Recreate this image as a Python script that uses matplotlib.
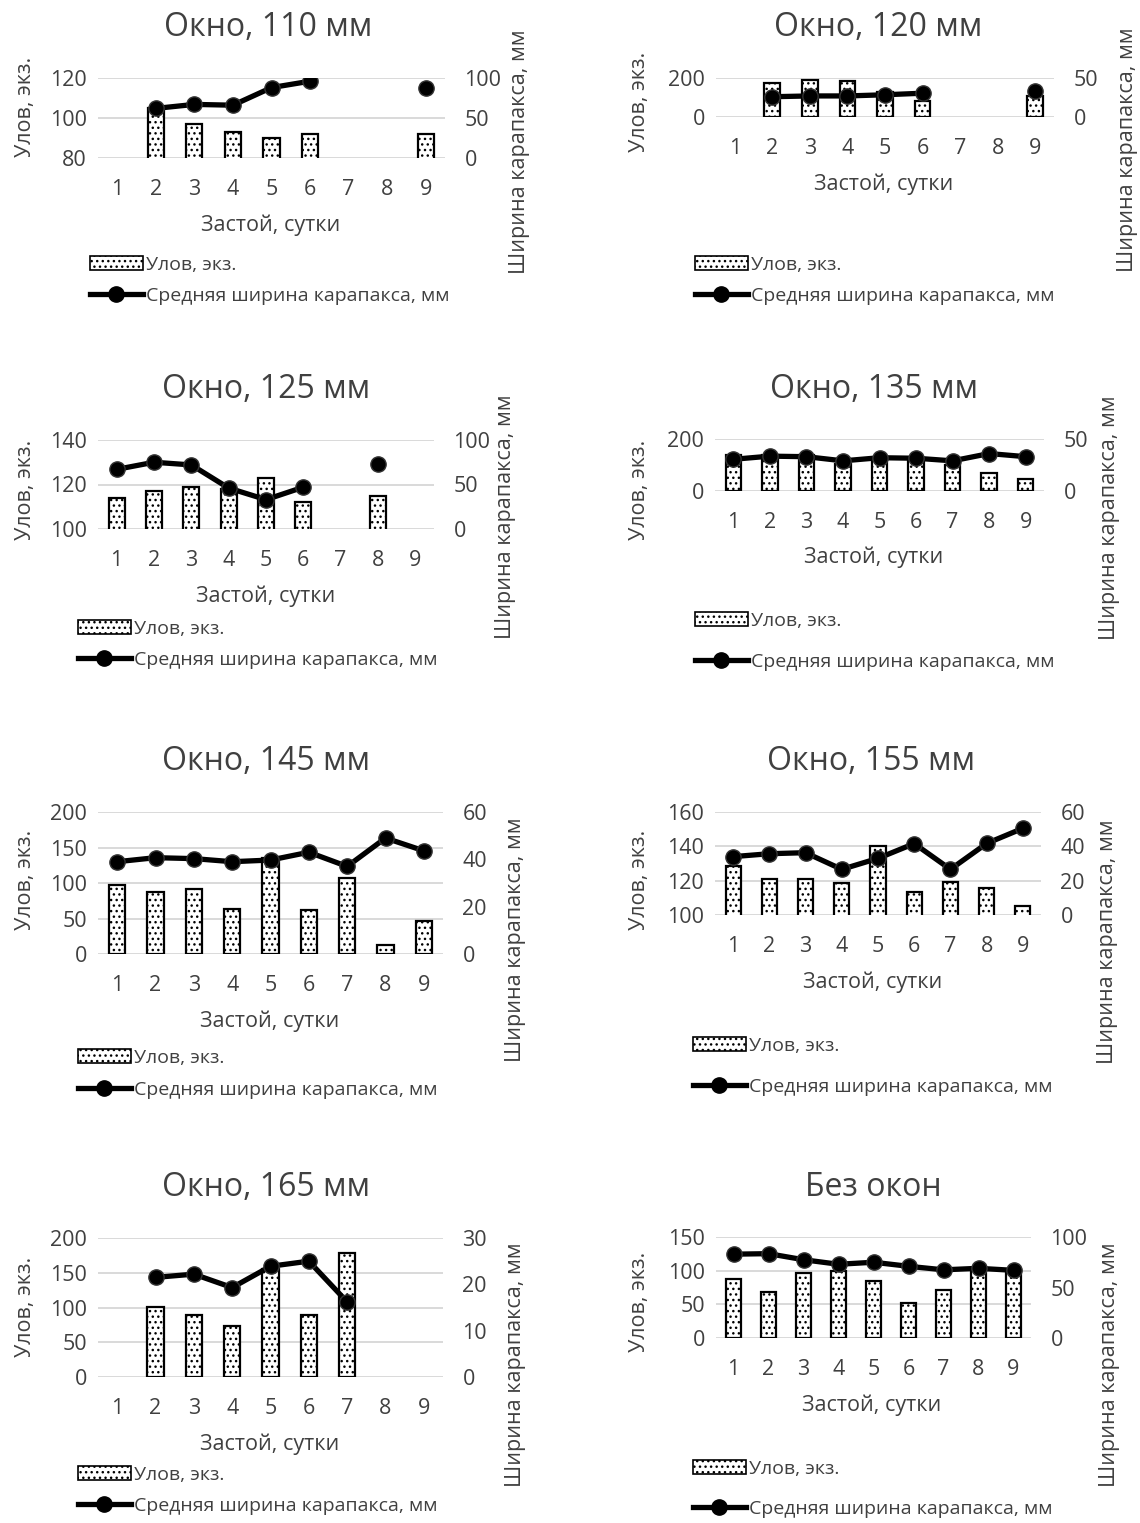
import numpy as np
import matplotlib
matplotlib.use('Agg')
import matplotlib.pyplot as plt
from matplotlib.patches import Patch
from matplotlib.lines import Line2D

plt.rcParams['font.family'] = ['Open Sans', 'DejaVu Sans']
plt.rcParams['hatch.color'] = 'black'
plt.rcParams['hatch.linewidth'] = 1.0

nan = np.nan
days = [1, 2, 3, 4, 5, 6, 7, 8, 9]

titles = ['Окно, 110 мм', 'Окно, 120 мм', 'Окно, 125 мм', 'Окно, 135 мм',
          'Окно, 145 мм', 'Окно, 155 мм', 'Окно, 165 мм', 'Без окон']

# улов, экз.
catch_110 = [nan, 105, 97, 93, 90, 92, nan, nan, 92]
catch_120 = [nan, 174, 188, 185, 130, 80, nan, nan, 110]
catch_125 = [114, 117, 119, 118, 123, 112, nan, 115, nan]
catch_135 = [140, 140, 140, 105, 125, 125, 100, 71, 48]
catch_145 = [97, 87, 92, 64, 135, 62, 107, 13, 47]
catch_155 = [128.5, 121, 121, 118.5, 140, 113.5, 119, 115.5, 105]
catch_165 = [nan, 101, 88.5, 73, 155, 89.5, 179, nan, nan]
catch_none = [88, 68, 97, 100, 84, 52, 72, 100, 101]

# средняя ширина карапакса, мм
width_110 = [nan, 62, 67, 66, 88, 96, nan, nan, 88]
width_120 = [nan, 26, 27, 27, 28.5, 30.5, nan, nan, 33]
width_125 = [67, 75, 72, 46, 33, 47, nan, 73, nan]
width_135 = [30.5, 33.5, 33, 29, 32, 31.5, 29, 36, 33]
width_145 = [39, 40.7, 40.3, 39, 39.7, 43, 37, 49, 43.6]
width_155 = [34, 35.7, 36.3, 26.6, 33, 41.6, 26.6, 41.7, 50.5]
width_165 = [nan, 21.5, 22.2, 19.3, 23.9, 25, 16.2, nan, nan]
width_none = [83, 83.5, 77.5, 73, 75, 71, 67.5, 69, 67]

catches = [catch_110, catch_120, catch_125, catch_135,
           catch_145, catch_155, catch_165, catch_none]
widths = [width_110, width_120, width_125, width_135,
          width_145, width_155, width_165, width_none]

# (min, max, step) for left and right axes
left_lims = [(80, 120, 20), (0, 200, 200), (100, 140, 20), (0, 200, 200),
             (0, 200, 50), (100, 160, 20), (0, 200, 50), (0, 150, 50)]
right_lims = [(0, 100, 50), (0, 50, 50), (0, 100, 50), (0, 50, 50),
              (0, 60, 20), (0, 60, 20), (0, 30, 10), (0, 100, 50)]

# layout in pixels: plot box, title, xlabel, left/right ylabel, legend
boxes = [(98, 78, 445, 158), (716, 78, 1054, 117), (98, 440, 434, 529), (715, 439, 1044, 491),
         (98, 812, 443, 954), (715, 812, 1041, 915), (98, 1238, 443, 1377), (716, 1237, 1031, 1338)]
title_pos = [(268, 28), (878, 28), (266, 390), (874, 390),
             (266, 762), (871, 762), (266, 1188), (873, 1188)]
xlabel_pos = [(271, 225), (884, 184), (266, 596), (874, 557),
              (270, 1021), (873, 982), (270, 1444), (872, 1405)]
ylab_left = [(25, 107), (640, 102), (25, 490), (640, 490),
             (25, 880), (640, 880), (25, 1307), (640, 1302)]
ylab_right = [(520, 152), (1127, 150), (505, 517), (1110, 518),
              (515, 940), (1108, 942), (515, 1365), (1110, 1365)]
legend_pos = [(90, 268, 32), (695, 268, 32), (78, 632, 32), (695, 624, 42),
              (78, 1061, 33), (693, 1049, 42), (78, 1478, 32), (693, 1472, 41)]

W, H = 1140, 1523
fig = plt.figure(figsize=(W / 100, H / 100), dpi=100)
txt = '#404040'

def ftext(x, y, s, **kw):
    fig.text(x / W, 1 - y / H, s, ha='center', va='center', color=txt, **kw)

for i in range(8):
    x0, y0, x1, y1 = boxes[i]
    ax = fig.add_axes([x0 / W, 1 - y1 / H, (x1 - x0) / W, (y1 - y0) / H])
    c = np.array(catches[i], dtype=float)
    w = np.array(widths[i], dtype=float)
    d = np.array(days)
    m = ~np.isnan(c)
    ax.bar(d[m], c[m], width=0.42, color='white', edgecolor='black',
           linewidth=1.6, hatch='...', zorder=2)
    lo, hi, st = left_lims[i]
    ax.set_ylim(lo, hi)
    ax.set_yticks(np.arange(lo, hi + 1, st))
    ax.set_xlim(0.5, 9.5)
    ax.set_xticks(days)
    ax.set_axisbelow(True)
    ax.grid(axis='y', color='#d9d9d9', linewidth=1.4)
    for s in ax.spines.values():
        s.set_visible(False)
    ax.tick_params(length=0, labelsize=15.5, labelcolor=txt, pad=8)
    ax.tick_params(axis='x', pad=15)

    ax2 = ax.twinx()
    ax2.plot(d, w, color='black', linewidth=3.8, marker='o', markersize=11,
             markeredgecolor='#333333', markeredgewidth=1.0, zorder=3)
    lo2, hi2, st2 = right_lims[i]
    ax2.set_ylim(lo2, hi2)
    ax2.set_yticks(np.arange(lo2, hi2 + 1, st2))
    for s in ax2.spines.values():
        s.set_visible(False)
    ax2.tick_params(length=0, labelsize=15.5, labelcolor=txt, pad=14)

    ftext(*title_pos[i], titles[i], fontsize=23)
    ftext(*xlabel_pos[i], 'Застой, сутки', fontsize=15.5)
    ftext(*ylab_left[i], 'Улов, экз.', fontsize=15.5, rotation=90)
    ftext(*ylab_right[i], 'Ширина карапакса, мм', fontsize=15.5, rotation=90)

    gx, gy, pitch = legend_pos[i]
    handles = [Patch(facecolor='white', edgecolor='black', hatch='...', linewidth=1.2),
               Line2D([], [], color='black', linewidth=3.8, marker='o', markersize=11)]
    fs = 14
    fig.legend(handles, ['Улов, экз.', 'Средняя ширина карапакса, мм'],
               loc='upper left', bbox_to_anchor=(gx / W, 1 - (gy - 12) / H),
               frameon=False, fontsize=fs, handlelength=2.7, handletextpad=0.2,
               borderpad=0, borderaxespad=0,
               labelspacing=(pitch - fs * 1.39) / (fs * 1.39),
               labelcolor=txt)

fig.savefig('out.png', dpi=100)
